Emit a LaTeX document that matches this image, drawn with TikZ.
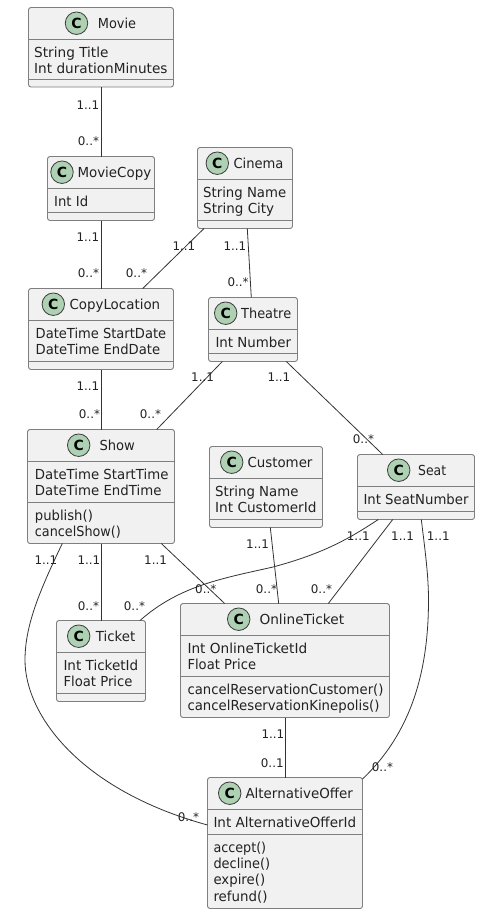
\documentclass[tikz,border=0pt]{standalone}
\usepackage{fontspec}
\usepackage{graphicx}
\setmainfont{DejaVu Sans}
\definecolor{boxfill}{HTML}{F1F1F1}
\definecolor{boxline}{HTML}{7F7F7F}
\definecolor{circfill}{HTML}{ADD1B2}
\definecolor{circline}{HTML}{3C3C3C}
\definecolor{ink}{HTML}{222222}
\tikzset{
  x=1pt,y=-1pt,
  umlbox/.style={draw=boxline,fill=boxfill,line width=0.9pt,rounded corners=2.5pt,inner sep=0pt,outer sep=0pt,anchor=north west},
  sepline/.style={draw=boxline,line width=0.9pt},
  badge/.style={circle,draw=circline,fill=circfill,line width=0.8pt,minimum size=22.5pt,inner sep=0pt,font=\fontsize{14}{14}\selectfont\bfseries,text=black},
  title/.style={anchor=base west,inner sep=0pt,font=\fontsize{13.8}{13.8}\selectfont,text=ink},
  member/.style={anchor=base west,inner sep=0pt,font=\fontsize{13.8}{13.8}\selectfont,text=ink},
  mult/.style={anchor=base west,inner sep=0pt,font=\fontsize{11.9}{11.9}\selectfont,text=ink},
  conn/.style={draw=black!80,line width=0.8pt},
}
% fit text to a target width while keeping its height
\newcommand{\fit}[2]{\resizebox{#1pt}{\height}{#2}}
% name, x1, y1, x2, y2, sep1, sep2, badge x, title x
\newcommand{\umlclass}[9]{%
  \pgfmathsetmacro{\bw}{#4-#2}\pgfmathsetmacro{\bh}{#5-#3}%
  \node[umlbox,minimum width=\bw pt,minimum height=\bh pt] (#1) at (#2,#3) {};
  \draw[sepline] (#2,#6) -- (#4,#6);
  \draw[sepline] (#2,#7) -- (#4,#7);
  \pgfmathsetmacro{\by}{#3+15.7}\pgfmathsetmacro{\ty}{#3+20.5}%
  \node[badge] (#1-badge) at (#8,\by) {C};
  \node[title] (#1-title) at (#9,\ty) {\umlname};
}
\newcommand{\umlname}{}
% id, x, y, end x, text
\newcommand{\mem}[5]{\pgfmathsetmacro{\mw}{#4-#2}\node[member] (#1) at (#2,#3) {\fit{\mw}{#5}};}
\newcommand{\mul}[4]{\node[mult] (#1) at (#2,#3) {#4};}
\begin{document}
\begin{tikzpicture}
\useasboundingbox (0,0) rectangle (480,914);
\renewcommand{\umlname}{\fit{38.3}{Movie}}
\umlclass{movie}{28.5}{7.5}{173.5}{87}{39.5}{79}{76.5}{97.7}
\mem{m1}{34}{57.3}{108.3}{String Title}
\mem{m2}{34}{73.7}{167.3}{Int durationMinutes}
\renewcommand{\umlname}{\fit{73.7}{MovieCopy}}
\umlclass{copy}{47.5}{156.5}{154.5}{220.5}{188.5}{212.5}{62}{77.3}
\mem{c1}{54}{206.3}{88}{Int Id}
\renewcommand{\umlname}{\fit{50}{Cinema}}
\umlclass{cinema}{197.5}{147.5}{292.5}{228.5}{179.5}{220.5}{217.3}{233.3}
\mem{ci1}{203}{197.3}{286}{String Name}
\mem{ci2}{203}{213.7}{274}{String City}
\renewcommand{\umlname}{\fit{90.7}{CopyLocation}}
\umlclass{loc}{28.5}{288.5}{173.5}{369.5}{320.5}{361.5}{53.3}{69.3}
\mem{l1}{35.5}{338.3}{166}{DateTime StartDate}
\mem{l2}{35.5}{354.7}{160}{DateTime EndDate}
\renewcommand{\umlname}{\fit{50}{Theatre}}
\umlclass{theatre}{208.5}{297.5}{297.5}{361.5}{329.5}{353.5}{225.7}{241}
\mem{t1}{215.3}{347.3}{291}{Int Number}
\renewcommand{\umlname}{\fit{35.4}{Show}}
\umlclass{show}{27.5}{429.5}{174.5}{543.5}{461.5}{502.5}{78.7}{99.3}
\mem{s1}{34.7}{479.3}{168.3}{DateTime StartTime}
\mem{s2}{34.7}{495.7}{161.3}{DateTime EndTime}
\mem{s3}{34.7}{520.2}{92.7}{publish()}
\mem{s4}{34.7}{536.6}{120.7}{cancelShow()}
\renewcommand{\umlname}{\fit{65}{Customer}}
\umlclass{customer}{209.5}{446.5}{322.5}{527.5}{478.5}{519.5}{231.7}{247.3}
\mem{cu1}{215}{496.3}{298.3}{String Name}
\mem{cu2}{215}{512.7}{316.3}{Int CustomerId}
\renewcommand{\umlname}{\fit{28}{Seat}}
\umlclass{seat}{357.5}{454.5}{474.5}{519.5}{486.5}{511.5}{398.7}{418}
\mem{se1}{363.3}{504.3}{468.3}{Int SeatNumber}
\renewcommand{\umlname}{\fit{39.3}{Ticket}}
\umlclass{ticket}{56.5}{620.5}{145.5}{701.5}{652.5}{693.5}{78.7}{95.7}
\mem{ti1}{63.3}{670.3}{138}{Int TicketId}
\mem{ti2}{63.3}{686.7}{132.3}{Float Price}
\renewcommand{\umlname}{\fit{84.7}{OnlineTicket}}
\umlclass{online}{180.5}{603.5}{389.5}{717.5}{635.5}{676.5}{238.7}{259.3}
\mem{o1}{187.3}{653.3}{307}{Int OnlineTicketId}
\mem{o2}{187.3}{669.7}{256}{Float Price}
\mem{o3}{187.3}{694.2}{383.3}{cancelReservationCustomer()}
\mem{o4}{187.3}{710.6}{379.3}{cancelReservationKinepolis()}
\renewcommand{\umlname}{\fit{107.4}{AlternativeOffer}}
\umlclass{alt}{207.5}{777.5}{362.5}{908.5}{809.5}{834.5}{229.7}{245.3}
\mem{a1}{213.3}{827.3}{356}{Int AlternativeOfferId}
\mem{a2}{213.3}{852}{266}{accept()}
\mem{a3}{213.3}{868.4}{270}{decline()}
\mem{a4}{213.3}{884.8}{265}{expire()}
\mem{a5}{213.3}{901.2}{267.3}{refund()}
% connectors
\draw[conn] (movie.south) -- (copy.north);
\draw[conn] (copy.south) -- (loc.north);
\draw[conn] ([xshift=-41pt]cinema.south) -- ([xshift=41.7pt]loc.north);
\draw[conn] ([xshift=2.3pt]cinema.south) -- ([xshift=-1.7pt]theatre.north);
\draw[conn] (loc.south) -- (show.north);
\draw[conn] ([xshift=-30.7pt]theatre.south) -- ([xshift=55.7pt]show.north);
\draw[conn] ([xshift=33.3pt]theatre.south) -- ([xshift=-33.3pt]seat.north);
\draw[conn] (show.south) -- (ticket.north);
\draw[conn] ([xshift=60.3pt]show.south) -- ([xshift=-60.3pt]online.north);
\draw[conn] ([xshift=4.3pt]customer.south) -- ([xshift=-6.3pt]online.north);
\draw[conn] ([xshift=-23.3pt]seat.south) -- ([xshift=43.3pt]online.north);
\draw[conn] ([xshift=-37.7pt]seat.south) .. controls (350,538) and (325,553) .. (273,567) .. controls (225,578) and (180,585) .. ([xshift=39pt]ticket.north);
\draw[conn] ([xshift=5.3pt]seat.south) .. controls (425,550) and (428.5,575) .. (428.5,600) .. controls (428.5,670) and (412,732) .. ([xshift=77.5pt,yshift=-1.5pt]alt.north);
\draw[conn] ([xshift=0.7pt]online.south) -- ([xshift=0.7pt]alt.north);
\draw[conn] ([xshift=-38.7pt]show.south) .. controls (40,590) and (25,625) .. (25,660) .. controls (25,715) and (80,790) .. ([yshift=18pt]alt.west);
% multiplicities
\mul{n1}{76.3}{109}{1..1}
\mul{n2}{77.7}{145}{0..*}
\mul{n3}{76.3}{241.3}{1..1}
\mul{n4}{77.7}{277.7}{0..*}
\mul{n5}{172.3}{250.3}{1..1}
\mul{n6}{125.7}{277.7}{0..*}
\mul{n7}{223.3}{250.3}{1..1}
\mul{n8}{227.3}{286}{0..*}
\mul{n9}{76.3}{390.7}{1..1}
\mul{n10}{78.7}{418.3}{0..*}
\mul{n11}{191}{381.7}{1..1}
\mul{n12}{139.7}{418.3}{0..*}
\mul{n13}{267.3}{381.7}{1..1}
\mul{n14}{352.7}{443.7}{0..*}
\mul{n15}{34.3}{564}{1..1}
\mul{n16}{77.3}{564}{1..1}
\mul{n17}{77.7}{610}{0..*}
\mul{n18}{123.7}{610}{0..*}
\mul{n19}{346.7}{540}{1..1}
\mul{n20}{144}{564}{1..1}
\mul{n21}{195}{593.3}{0..*}
\mul{n22}{246}{548.3}{1..1}
\mul{n23}{255.7}{593.3}{0..*}
\mul{n24}{391}{540}{1..1}
\mul{n25}{310.7}{593.3}{0..*}
\mul{n26}{426.7}{540}{1..1}
\mul{n27}{371.7}{771.7}{0..*}
\mul{n28}{261.3}{738.3}{1..1}
\mul{n29}{260.7}{767.3}{0..1}
\mul{n30}{177.7}{821.7}{0..*}
\end{tikzpicture}
\end{document}
